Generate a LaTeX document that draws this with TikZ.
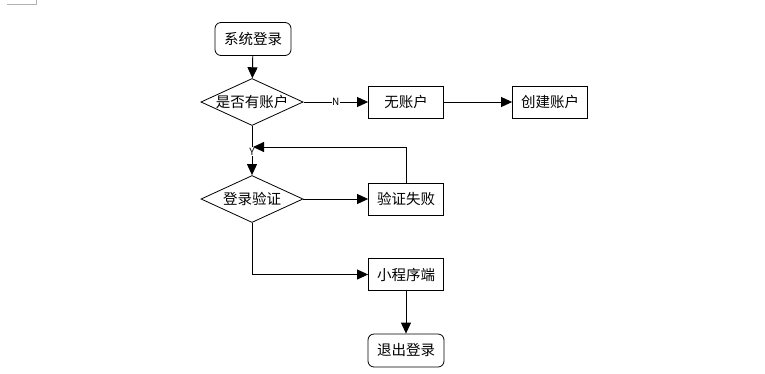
\documentclass[tikz,border=0pt]{standalone}
\usepackage{fontspec}
\setmainfont{Noto Sans CJK SC}
\usetikzlibrary{shapes.geometric,arrows.meta}
\begin{document}
\begin{tikzpicture}[x=1pt,y=-1pt,
  every node/.style={font=\fontsize{14.5}{16}\selectfont, inner sep=0pt},
  term/.style={draw, rounded corners=6pt, minimum width=76pt, minimum height=33pt, line width=0.8pt},
  proc/.style={draw, minimum width=75pt, minimum height=32pt, line width=0.8pt},
  dec/.style={draw, diamond, aspect=2.2, minimum width=102pt, minimum height=47pt, line width=0.8pt},
  conn/.style={line width=0.9pt, -{Triangle[length=11pt,width=10pt]}},
  lbl/.style={fill=white, font=\fontsize{10}{11}\selectfont, inner sep=0.5pt}]
\useasboundingbox (0,0) rectangle (765,373);
\draw[gray!60, line width=0.5pt] (7,4) -- (36,4) -- (36,0);
\node[term] (start) at (253,39) {系统登录};
\node[dec] (hasacc) at (252,102) {是否有账户};
\node[proc] (noacc) at (406,102) {无账户};
\node[proc] (create) at (550,102) {创建账户};
\node[dec] (verify) at (252,199) {登录验证};
\node[proc] (fail) at (406,199) {验证失败};
\node[proc] (app) at (406,274.5) {小程序端};
\node[term] (quit) at (406,350.5) {退出登录};
\coordinate (loop) at (406,147);
\coordinate (join) at (253,147);
\coordinate (bend) at (252,274.5);
\draw[conn] (start) -- (hasacc);
\draw[conn] (hasacc) -- node[lbl, pos=0.5] {N} (noacc);
\draw[conn] (noacc) -- (create);
\draw[conn] (hasacc) -- node[lbl, pos=0.52] {Y} (verify);
\draw[conn] (fail.north) -- (loop) -- (join);
\draw[conn] (verify) -- (fail);
\draw[conn] (verify.south) -- (bend) -- (app.west);
\draw[conn] (app) -- (quit);
\end{tikzpicture}
\end{document}
